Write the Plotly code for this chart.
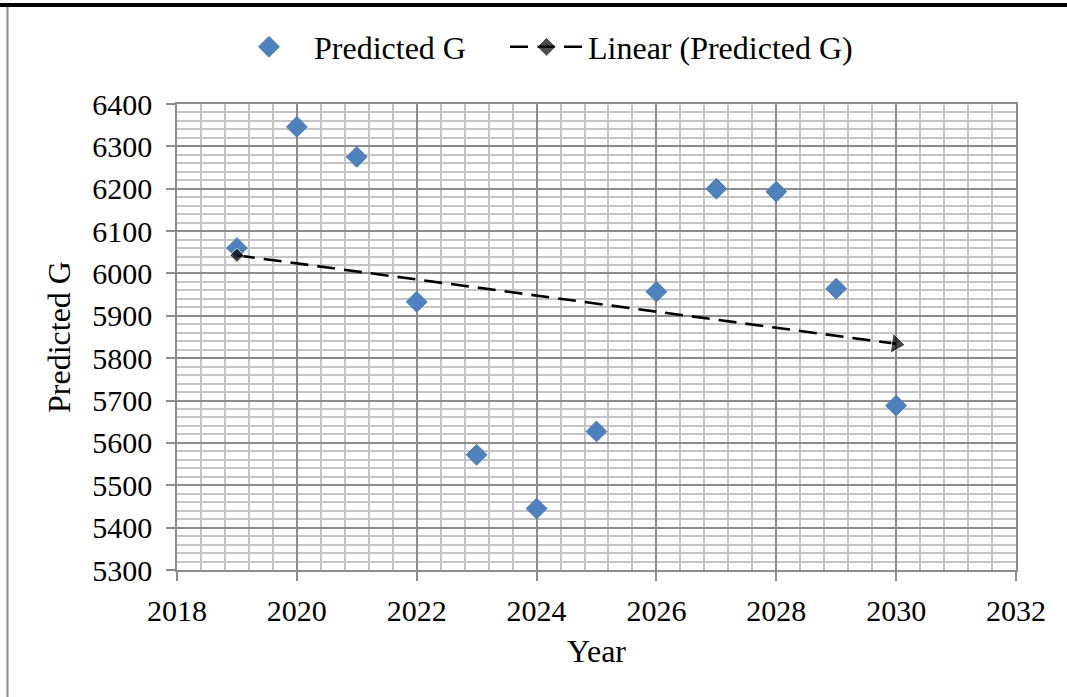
import numpy as np
import plotly.graph_objects as go

# Predicted G by year
years = [2019, 2020, 2021, 2022, 2023, 2024, 2025, 2026, 2027, 2028, 2029, 2030]
predicted_g = [6060, 6346, 6275, 5933, 5572, 5445, 5627, 5957, 6200, 6193, 5964, 5688]

x_ticks = [2018, 2020, 2022, 2024, 2026, 2028, 2030, 2032]
y_ticks = [5300, 5400, 5500, 5600, 5700, 5800, 5900, 6000, 6100, 6200, 6300, 6400]

# Least-squares trend line over the series
slope, intercept = np.polyfit(years, predicted_g, 1)
trend_x = [years[0], years[-1]]
trend_y = [slope * x + intercept for x in trend_x]

W, H = 1067, 697
L, R, T, B = 177, 51, 104, 127
pw, ph = W - L - R, H - T - B

FONT = "Liberation Serif, Times New Roman, serif"
MAJOR = "#8c8c8c"
MINOR = "#c4c4c4"
TICK_SIZE = 30
TEXT_SIZE = 32


def px_x(p):
    return (p - L) / pw


def px_y(p):
    return (H - B - p) / ph


fig = go.Figure()

fig.add_trace(go.Scatter(
    x=years, y=predicted_g, mode="markers", name="Predicted G",
    marker=dict(symbol="diamond", size=16, color="#4f81bd",
                line=dict(color="#4a7ebb", width=1)),
    legend="legend",
))

fig.add_trace(go.Scatter(
    x=trend_x, y=trend_y, mode="lines+markers", name="Linear (Predicted G)",
    line=dict(color="black", width=2.6, dash="18px,9px"),
    marker=dict(symbol=["diamond", "triangle-right"], size=[11, 18],
                angle=[0, 8], color="black"),
    legend="legend2",
))

legend_font = dict(family=FONT, size=TEXT_SIZE)
fig.update_layout(
    width=W, height=H,
    margin=dict(l=L, r=R, t=T, b=B, autoexpand=False),
    paper_bgcolor="white", plot_bgcolor="white",
    font=dict(family=FONT, size=TEXT_SIZE, color="black"),
    showlegend=True,
    legend=dict(orientation="h", x=px_x(224), xanchor="left", y=px_y(47),
                yanchor="middle", font=legend_font, itemwidth=80,
                bgcolor="rgba(0,0,0,0)"),
    legend2=dict(orientation="h", x=px_x(505), xanchor="left", y=px_y(47),
                 yanchor="middle", font=legend_font, itemwidth=73,
                 bgcolor="rgba(0,0,0,0)"),
    xaxis=dict(
        range=[2018, 2032], tickvals=x_ticks, ticktext=[str(v) for v in x_ticks],
        tickfont=dict(family=FONT, size=TICK_SIZE),
        showgrid=True, gridcolor=MAJOR, gridwidth=1.6,
        minor=dict(dtick=0.4, tick0=2018, showgrid=True, gridcolor=MINOR, gridwidth=1.6,
                   ticks=""),
        ticks="outside", ticklen=9, tickcolor=MAJOR, tickwidth=1.6,
        showline=True, linecolor=MAJOR, linewidth=1.6, mirror=True,
        zeroline=False, ticklabelstandoff=4,
        title=dict(text="Year", font=dict(family=FONT, size=TEXT_SIZE), standoff=14),
    ),
    yaxis=dict(
        range=[5300, 6400], tickvals=y_ticks, ticktext=[str(v) for v in y_ticks],
        tickfont=dict(family=FONT, size=TICK_SIZE),
        showgrid=True, gridcolor=MAJOR, gridwidth=1.6,
        minor=dict(dtick=20, tick0=5300, showgrid=True, gridcolor=MINOR, gridwidth=1.6,
                   ticks=""),
        ticks="outside", ticklen=9, tickcolor=MAJOR, tickwidth=1.6,
        showline=True, linecolor=MAJOR, linewidth=1.6, mirror=True,
        zeroline=False, ticklabelstandoff=8,
        title=dict(text="Predicted G", font=dict(family=FONT, size=TEXT_SIZE), standoff=12),
    ),
)

# Page frame: heavy rule along the top, thin rule down the left side
fig.add_shape(type="line", xref="paper", yref="paper",
              x0=px_x(0), x1=px_x(W), y0=px_y(5), y1=px_y(5),
              line=dict(color="black", width=4))
fig.add_shape(type="line", xref="paper", yref="paper",
              x0=px_x(7.5), x1=px_x(7.5), y0=px_y(7), y1=px_y(H),
              line=dict(color="#8a8a8a", width=2))

fig.write_html("out.html")
